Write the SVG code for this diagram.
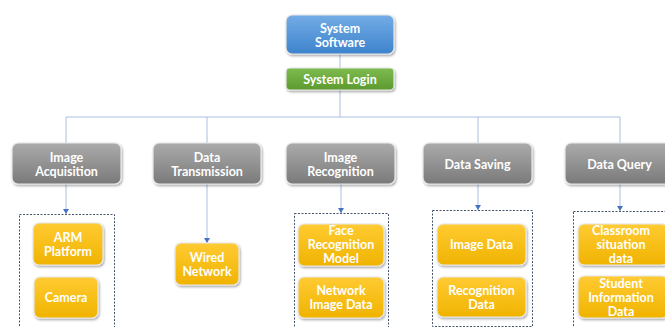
<svg xmlns="http://www.w3.org/2000/svg" width="665" height="327" viewBox="0 0 665 327">
<defs>
<linearGradient id="gBlue" x1="0" y1="0" x2="0" y2="1"><stop offset="0" stop-color="#73ace6"/><stop offset="1" stop-color="#3d83cc"/></linearGradient>
<linearGradient id="gGreen" x1="0" y1="0" x2="0" y2="1"><stop offset="0" stop-color="#7dbb4f"/><stop offset="1" stop-color="#5c9a30"/></linearGradient>
<linearGradient id="gGray" x1="0" y1="0" x2="0" y2="1"><stop offset="0" stop-color="#ababab"/><stop offset="1" stop-color="#7a7a7a"/></linearGradient>
<linearGradient id="gYellow" x1="0" y1="0" x2="0" y2="1"><stop offset="0" stop-color="#ffcb33"/><stop offset="1" stop-color="#f0b300"/></linearGradient>
<filter id="sh" x="-10%" y="-10%" width="130%" height="140%"><feDropShadow dx="1" dy="1.5" stdDeviation="1.2" flood-color="#000" flood-opacity="0.35"/></filter>
<marker id="arr" markerWidth="6" markerHeight="6" refX="5" refY="3" orient="auto" markerUnits="userSpaceOnUse"><path d="M0,0 L5,3 L0,6 z" fill="#4472c4"/></marker>
</defs>
<style>
.box{stroke:#e8e8e8;stroke-width:1.2;filter:url(#sh)}
.blue{fill:url(#gBlue)}
.green{fill:url(#gGreen)}
.gray{fill:url(#gGray)}
.yel{fill:url(#gYellow)}
.t{font-family:Lato,"Liberation Sans",sans-serif;font-weight:700;font-size:12.5px;fill:#fff;text-anchor:middle;dominant-baseline:central}
.ln{stroke:#a9bedf;stroke-width:1;fill:none}
.la{stroke:#a9bedf;stroke-width:1;fill:none;marker-end:url(#arr)}
.grp{fill:none;stroke:#44546a;stroke-width:1;stroke-dasharray:2 1.5}
</style>
<g id="connectors">
<path class="ln" d="M340,54 V68 M340,90 V117 M66,117 H620 M66,117 V143 M207,117 V143 M478,117 V143 M620,117 V143"/>
<path class="la" d="M66,184 V214"/>
<path class="la" d="M207,184 V243"/>
<path class="la" d="M341,184 V213"/>
<path class="la" d="M478,184 V210"/>
<path class="la" d="M620,184 V211"/>
</g>
<g id="groups">
<rect class="grp" x="19.5" y="214.5" width="95" height="120"/>
<rect class="grp" x="294.5" y="213.5" width="94" height="120"/>
<rect class="grp" x="432.5" y="210.5" width="100" height="116"/>
<rect class="grp" x="573.5" y="211.5" width="100" height="120"/>
</g>
<g id="system-software"><rect class="box blue" x="286" y="15" width="108" height="39" rx="6"/><text class="t" x="340" y="28">System</text><text class="t" x="340" y="42">Software</text></g>
<g id="system-login"><rect class="box green" x="286" y="68" width="108" height="22" rx="4"/><text class="t" x="340" y="79">System Login</text></g>
<g id="image-acquisition"><rect class="box gray" x="12" y="143" width="109" height="41" rx="6"/><text class="t" x="66.5" y="157">Image</text><text class="t" x="66.5" y="171">Acquisition</text></g>
<g id="data-transmission"><rect class="box gray" x="153" y="143" width="108" height="41" rx="6"/><text class="t" x="207" y="157">Data</text><text class="t" x="207" y="171">Transmission</text></g>
<g id="image-recognition"><rect class="box gray" x="286" y="143" width="109" height="41" rx="6"/><text class="t" x="340.5" y="157">Image</text><text class="t" x="340.5" y="171">Recognition</text></g>
<g id="data-saving"><rect class="box gray" x="423" y="143" width="109" height="41" rx="6"/><text class="t" x="477.5" y="164">Data Saving</text></g>
<g id="data-query"><rect class="box gray" x="565" y="143" width="109" height="41" rx="6"/><text class="t" x="619.5" y="164">Data Query</text></g>
<g id="arm-platform"><rect class="box yel" x="33" y="223" width="70" height="42" rx="6"/><text class="t" x="68" y="237">ARM</text><text class="t" x="68" y="251">Platform</text></g>
<g id="camera"><rect class="box yel" x="34" y="277" width="64" height="41" rx="6"/><text class="t" x="66" y="297.5">Camera</text></g>
<g id="wired-network"><rect class="box yel" x="175" y="243" width="64" height="42" rx="6"/><text class="t" x="207" y="257">Wired</text><text class="t" x="207" y="271">Network</text></g>
<g id="face-recognition-model"><rect class="box yel" x="298" y="224" width="86" height="42" rx="6"/><text class="t" x="341" y="230.5">Face</text><text class="t" x="341" y="244.5">Recognition</text><text class="t" x="341" y="258">Model</text></g>
<g id="network-image-data"><rect class="box yel" x="298" y="277" width="86" height="41" rx="6"/><text class="t" x="341" y="290.5">Network</text><text class="t" x="341" y="304.5">Image Data</text></g>
<g id="image-data"><rect class="box yel" x="437" y="224" width="89" height="41" rx="6"/><text class="t" x="481.5" y="244.5">Image Data</text></g>
<g id="recognition-data"><rect class="box yel" x="437" y="277" width="89" height="40" rx="6"/><text class="t" x="481.5" y="290">Recognition</text><text class="t" x="481.5" y="304">Data</text></g>
<g id="classroom-situation-data"><rect class="box yel" x="578" y="224" width="90" height="41" rx="6"/><text class="t" x="621" y="230.5">Classroom</text><text class="t" x="621" y="244.5">situation</text><text class="t" x="621" y="258">data</text></g>
<g id="student-information-data"><rect class="box yel" x="578" y="276" width="90" height="42" rx="6"/><text class="t" x="621" y="283">Student</text><text class="t" x="621" y="297">Information</text><text class="t" x="621" y="311">Data</text></g>
</svg>
